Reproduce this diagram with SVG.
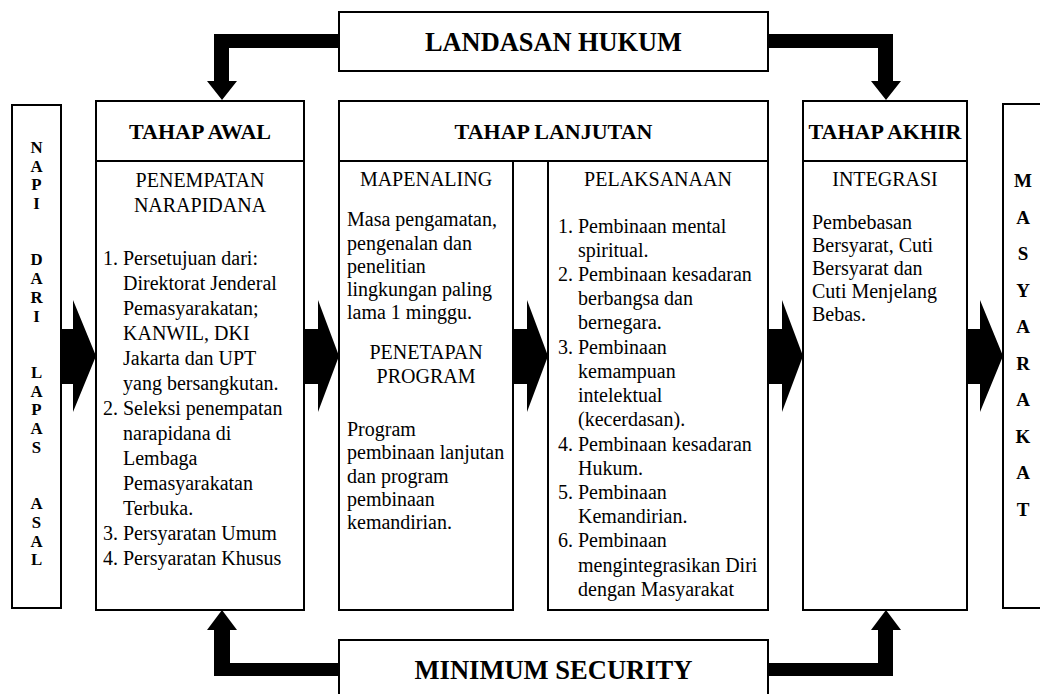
<svg xmlns="http://www.w3.org/2000/svg" width="1040" height="694" viewBox="0 0 1040 694">
<style>
.box{fill:#fff;stroke:#000;stroke-width:2}
.arw{fill:#000;stroke:none}
text{font-family:"Liberation Serif","Times New Roman",serif;fill:#000}
.t{font-size:20px}
.c{text-anchor:middle}
.h{font-size:22px;font-weight:bold;text-anchor:middle}
.v{font-size:16.8px;font-weight:bold;text-anchor:middle}
.m{font-size:19px;font-weight:bold;text-anchor:middle}
.big{font-size:28px;font-weight:bold;text-anchor:middle}
</style>
<rect width="1040" height="694" fill="#fff"/>
<g id="connectors">
<polygon class="arw" points="339,34 214,34 214,81 207,81 222,100 237,81 229,81 229,48 339,48"/>
<polygon class="arw" points="768,34 893,34 893,81 901,81 886,100 871,81 878,81 878,48 768,48"/>
<polygon class="arw" points="339,663 230,663 230,630 237,630 222,610 207,630 214,630 214,676 339,676"/>
<polygon class="arw" points="768,663 878,663 878,630 871,630 886,610 901,630 893,630 893,676 768,676"/>
<polygon class="arw" points="61,329 73,329 73,300 96,356 73,412 73,384 61,384"/>
<polygon class="arw" points="304,329 318,329 318,300 339,356 318,412 318,384 304,384"/>
<polygon class="arw" points="513,329 527,329 527,300 548,356 527,412 527,384 513,384"/>
<polygon class="arw" points="768,329 782,329 782,300 803,356 782,412 782,384 768,384"/>
<polygon class="arw" points="967,329 980,329 980,300 1003,356 980,412 980,384 967,384"/>
</g>
<g id="landasan-hukum">
<rect class="box" x="339" y="12" width="429" height="59"/>
<text class="big" x="553.5" y="51" textLength="257" lengthAdjust="spacingAndGlyphs">LANDASAN HUKUM</text>
</g>
<g id="minimum-security">
<rect class="box" x="339" y="640" width="429" height="60"/>
<text class="big" x="553.5" y="679" textLength="278" lengthAdjust="spacingAndGlyphs">MINIMUM SECURITY</text>
</g>
<g id="napi-dari-lapas-asal">
<rect class="box" x="12" y="105" width="49" height="503"/>
<text class="v" x="36.5" y="152.8">N</text>
<text class="v" x="36.5" y="171.5">A</text>
<text class="v" x="36.5" y="190.3">P</text>
<text class="v" x="36.5" y="209">I</text>
<text class="v" x="36.5" y="265.3">D</text>
<text class="v" x="36.5" y="284">A</text>
<text class="v" x="36.5" y="302.8">R</text>
<text class="v" x="36.5" y="321.5">I</text>
<text class="v" x="36.5" y="377.8">L</text>
<text class="v" x="36.5" y="396.5">A</text>
<text class="v" x="36.5" y="415.3">P</text>
<text class="v" x="36.5" y="434">A</text>
<text class="v" x="36.5" y="452.8">S</text>
<text class="v" x="36.5" y="509">A</text>
<text class="v" x="36.5" y="527.8">S</text>
<text class="v" x="36.5" y="546.5">A</text>
<text class="v" x="36.5" y="565.3">L</text>
</g>
<g id="tahap-awal">
<rect class="box" x="96" y="101" width="208" height="509"/>
<line class="box" x1="96" y1="161" x2="304" y2="161"/>
<text class="h" x="200" y="139">TAHAP AWAL</text>
<text class="t c" x="200" y="187">PENEMPATAN</text>
<text class="t c" x="200" y="212">NARAPIDANA</text>
<text class="t" x="103" y="265">1. Persetujuan dari:</text>
<text class="t" x="123" y="290">Direktorat Jenderal</text>
<text class="t" x="123" y="315">Pemasyarakatan;</text>
<text class="t" x="123" y="340">KANWIL, DKI</text>
<text class="t" x="123" y="365">Jakarta dan UPT</text>
<text class="t" x="123" y="390">yang bersangkutan.</text>
<text class="t" x="103" y="415">2. Seleksi penempatan</text>
<text class="t" x="123" y="440">narapidana di</text>
<text class="t" x="123" y="465">Lembaga</text>
<text class="t" x="123" y="490">Pemasyarakatan</text>
<text class="t" x="123" y="515">Terbuka.</text>
<text class="t" x="103" y="540">3. Persyaratan Umum</text>
<text class="t" x="103" y="565">4. Persyaratan Khusus</text>
</g>
<g id="tahap-lanjutan">
<rect class="box" x="339" y="101" width="429" height="60"/>
<text class="h" x="553.5" y="139">TAHAP LANJUTAN</text>
</g>
<g id="mapenaling">
<rect class="box" x="339" y="161" width="174" height="449"/>
<text class="t c" x="426" y="186">MAPENALING</text>
<text class="t" x="347" y="226">Masa pengamatan,</text>
<text class="t" x="347" y="249.5">pengenalan dan</text>
<text class="t" x="347" y="272.5">penelitian</text>
<text class="t" x="347" y="295.5">lingkungan paling</text>
<text class="t" x="347" y="318.5">lama 1 minggu.</text>
<text class="t c" x="426" y="359">PENETAPAN</text>
<text class="t c" x="426" y="383">PROGRAM</text>
<text class="t" x="347" y="436">Program</text>
<text class="t" x="347" y="459">pembinaan lanjutan</text>
<text class="t" x="347" y="483">dan program</text>
<text class="t" x="347" y="506">pembinaan</text>
<text class="t" x="347" y="529">kemandirian.</text>
</g>
<g id="pelaksanaan">
<rect class="box" x="548" y="161" width="220" height="449"/>
<text class="t c" x="658" y="186">PELAKSANAAN</text>
<text class="t" x="558" y="233">1. Pembinaan mental</text>
<text class="t" x="578" y="257">spiritual.</text>
<text class="t" x="558" y="281">2. Pembinaan kesadaran</text>
<text class="t" x="578" y="305">berbangsa dan</text>
<text class="t" x="578" y="329">bernegara.</text>
<text class="t" x="558" y="354">3. Pembinaan</text>
<text class="t" x="578" y="378">kemampuan</text>
<text class="t" x="578" y="402">intelektual</text>
<text class="t" x="578" y="426">(kecerdasan).</text>
<text class="t" x="558" y="451">4. Pembinaan kesadaran</text>
<text class="t" x="578" y="475">Hukum.</text>
<text class="t" x="558" y="499">5. Pembinaan</text>
<text class="t" x="578" y="523">Kemandirian.</text>
<text class="t" x="558" y="547">6. Pembinaan</text>
<text class="t" x="578" y="572">mengintegrasikan Diri</text>
<text class="t" x="578" y="596">dengan Masyarakat</text>
</g>
<g id="tahap-akhir">
<rect class="box" x="803" y="101" width="164" height="509"/>
<line class="box" x1="803" y1="161" x2="967" y2="161"/>
<text class="h" x="885" y="139">TAHAP AKHIR</text>
<text class="t c" x="885" y="186">INTEGRASI</text>
<text class="t" x="812" y="229">Pembebasan</text>
<text class="t" x="812" y="252">Bersyarat, Cuti</text>
<text class="t" x="812" y="275">Bersyarat dan</text>
<text class="t" x="812" y="298">Cuti Menjelang</text>
<text class="t" x="812" y="321">Bebas.</text>
</g>
<g id="masyarakat">
<rect class="box" x="1003" y="104" width="50" height="504"/>
<text class="m" x="1023" y="187.3">M</text>
<text class="m" x="1023" y="223.8">A</text>
<text class="m" x="1023" y="260.3">S</text>
<text class="m" x="1023" y="296.8">Y</text>
<text class="m" x="1023" y="333.3">A</text>
<text class="m" x="1023" y="369.8">R</text>
<text class="m" x="1023" y="406.3">A</text>
<text class="m" x="1023" y="442.8">K</text>
<text class="m" x="1023" y="479.3">A</text>
<text class="m" x="1023" y="515.8">T</text>
</g>
</svg>
